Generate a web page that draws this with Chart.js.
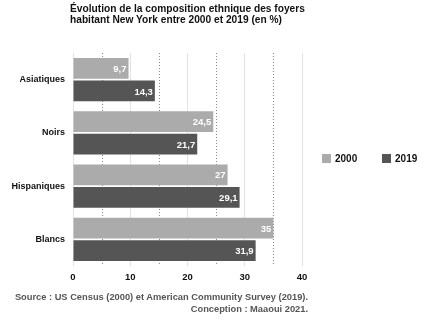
<!DOCTYPE html>
<html>
<head>
<meta charset="utf-8">
<script src="https://cdn.jsdelivr.net/npm/chart.js@4"></script>
<style>
  body { margin: 0; background: #fff; font-family: "Liberation Sans", Arial, sans-serif; }
  #wrap { position: relative; width: 426px; height: 324px; }
  #title { position: absolute; left: 70px; top: 4px; font-weight: bold; font-size: 10.2px; line-height: 10.5px; color: #111; }
  #legend { position: absolute; left: 322px; top: 153px; font-weight: bold; font-size: 10px; color: #111; }
  #legend span.sw { display: inline-block; width: 9px; height: 9px; vertical-align: -1px; margin-right: 4px; }
  #legend span.it { margin-right: 22px; }
  #footer { position: absolute; left: 0; width: 308px; top: 292px; text-align: right; font-weight: bold; font-size: 9.3px; line-height: 11.5px; color: #555; }
  canvas { position: absolute; left: 0; top: 0; }
</style>
</head>
<body>
<div id="wrap">
  <canvas id="barChart" width="426" height="324"></canvas>
  <div id="title">Évolution de la composition ethnique des foyers<br>habitant New York entre 2000 et 2019 (en %)</div>
  <div id="legend">
    <span class="it"><span class="sw" style="background:#ababab"></span>2000</span>
    <span><span class="sw" style="background:#555555"></span>2019</span>
  </div>
  <div id="footer">Source : US Census (2000) et American Community Survey (2019).<br>Conception : Maaoui 2021.</div>
</div>
<script>
// DATA
var categories = ['Asiatiques', 'Noirs', 'Hispaniques', 'Blancs'];
var values2000 = [9.7, 24.5, 27, 35];
var values2019 = [14.3, 21.7, 29.1, 31.9];
var xTicks = [0, 10, 20, 30, 40];

var color2000 = '#ababab';
var color2019 = '#555555';

// dotted lines halfway between the labelled ticks
var dottedLines = {
    id: 'dottedLines',
    beforeDatasetsDraw: function (chart) {
        var ctx = chart.ctx;
        var x = chart.scales.x;
        var area = chart.chartArea;
        ctx.save();
        ctx.strokeStyle = '#888';
        ctx.lineWidth = 1;
        ctx.setLineDash([1, 2]);
        [5, 15, 25, 35].forEach(function (v) {
            var px = Math.round(x.getPixelForValue(v)) + 0.5;
            ctx.beginPath();
            ctx.moveTo(px, area.top);
            ctx.lineTo(px, area.bottom);
            ctx.stroke();
        });
        ctx.restore();
    }
};

// white value labels at the end of each bar
var valueLabels = {
    id: 'valueLabels',
    afterDatasetsDraw: function (chart) {
        var ctx = chart.ctx;
        ctx.save();
        ctx.font = 'bold 9.5px "Liberation Sans", Arial, sans-serif';
        ctx.fillStyle = '#fff';
        ctx.textAlign = 'right';
        ctx.textBaseline = 'middle';
        chart.data.datasets.forEach(function (ds, i) {
            chart.getDatasetMeta(i).data.forEach(function (bar, j) {
                var txt = String(ds.data[j]).replace('.', ',');
                ctx.fillText(txt, bar.x - 2, bar.y + 1);
            });
        });
        ctx.restore();
    }
};

var barCtx = document.getElementById('barChart').getContext('2d');
window.barChart = new Chart(barCtx, {
    type: 'bar',
    data: {
        labels: categories,
        datasets: [
            { label: '2000', data: values2000, backgroundColor: color2000 },
            { label: '2019', data: values2019, backgroundColor: color2019 }
        ]
    },
    plugins: [dottedLines, valueLabels],
    options: {
        indexAxis: 'y',
        responsive: false,
        animation: false,
        categoryPercentage: 0.85,
        barPercentage: 0.92,
        layout: {
            padding: { top: 53, right: 124, bottom: 38, left: 0 }
        },
        plugins: {
            legend: { display: false },
            tooltip: { enabled: false }
        },
        scales: {
            x: {
                min: 0,
                max: 40,
                afterBuildTicks: function (scale) {
                    scale.ticks = xTicks.map(function (v) { return { value: v }; });
                },
                afterFit: function (scale) { scale.height = 20; },
                grid: { color: '#e2e2e2', drawTicks: false },
                border: { display: false },
                ticks: {
                    padding: 6,
                    color: '#111',
                    font: { family: 'Liberation Sans', size: 9.5, weight: 'bold' }
                }
            },
            y: {
                afterFit: function (scale) { scale.width = 73; },
                grid: { display: false },
                border: { display: false },
                ticks: {
                    padding: 0,
                    color: '#111',
                    font: { family: 'Liberation Sans', size: 9, weight: 'bold' }
                }
            }
        }
    }
});
</script>
</body>
</html>
